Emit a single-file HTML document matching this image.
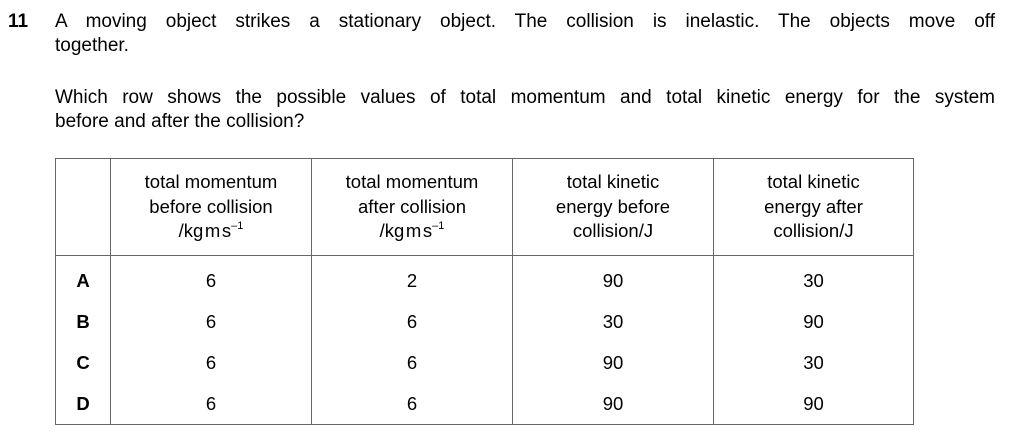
<!DOCTYPE html>
<html><head><meta charset="utf-8"><style>
body{margin:0;width:1024px;height:445px;background:#fff;font-family:"Liberation Sans",Arial,sans-serif;color:#000;position:relative;overflow:hidden}
.abs{position:absolute}
.q{font-size:19px;line-height:24px}
table{position:absolute;left:55px;top:158px;border-collapse:collapse;font-size:18.5px}
td{border:1.5px solid #666;text-align:center;padding:0}
th{border:1.5px solid #666;font-weight:normal;text-align:center;line-height:24.5px;padding:0;height:96px;vertical-align:middle}
sup{font-size:11px;line-height:0;vertical-align:0;position:relative;top:-8px}
.row td{border-top:none;border-bottom:none;height:41px}
.lbl{font-weight:bold}
</style></head><body>
<div class="abs q" style="left:8px;top:10px;font-weight:bold">11</div>
<div class="abs q" style="left:55px;top:10px;width:940px;text-align:justify;text-align-last:justify">A moving object strikes a stationary object. The collision is inelastic. The objects move off</div>
<div class="abs q" style="left:55px;top:34px">together.</div>
<div class="abs q" style="left:55px;top:86px;width:940px;text-align:justify;text-align-last:justify">Which row shows the possible values of total momentum and total kinetic energy for the system</div>
<div class="abs q" style="left:55px;top:110px">before and after the collision?</div>
<table>
<tr>
<th style="width:54px"></th>
<th style="width:200px">total momentum<br>before collision<br>/kg&#8202;m&#8202;s<sup>–1</sup></th>
<th style="width:200px">total momentum<br>after collision<br>/kg&#8202;m&#8202;s<sup>–1</sup></th>
<th style="width:200px">total kinetic<br>energy before<br>collision/J</th>
<th style="width:199px">total kinetic<br>energy after<br>collision/J</th>
</tr>
<tr class="row"><td class="lbl" style="padding-top:4px">A</td><td style="padding-top:4px">6</td><td style="padding-top:4px">2</td><td style="padding-top:4px">90</td><td style="padding-top:4px">30</td></tr>
<tr class="row"><td class="lbl">B</td><td>6</td><td>6</td><td>30</td><td>90</td></tr>
<tr class="row"><td class="lbl">C</td><td>6</td><td>6</td><td>90</td><td>30</td></tr>
<tr class="row"><td class="lbl" style="border-bottom:1.5px solid #666">D</td><td style="border-bottom:1.5px solid #666">6</td><td style="border-bottom:1.5px solid #666">6</td><td style="border-bottom:1.5px solid #666">90</td><td style="border-bottom:1.5px solid #666">90</td></tr>
</table>
</body></html>
